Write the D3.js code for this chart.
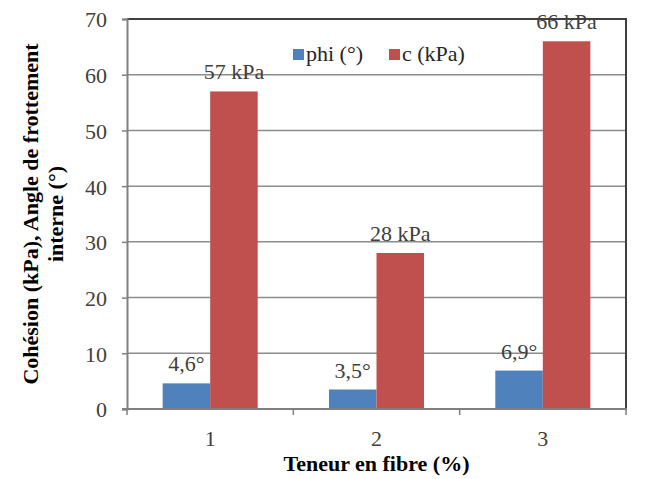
<!DOCTYPE html>
<html>
<head>
<meta charset="utf-8">
<script src="https://cdn.jsdelivr.net/npm/d3@7"></script>
<style>
  html, body { margin: 0; padding: 0; background: #fff; }
  svg { display: block; }
  svg text { font-family: "Liberation Serif", "Times New Roman", Times, "DejaVu Serif", serif; }
</style>
</head>
<body>
<script>
const categories = ["1", "2", "3"];
const seriesNames = ["phi (°)", "c (kPa)"];
const phiValues = [4.6, 3.5, 6.9];
const cValues = [57, 28, 66];
const phiLabels = ["4,6°", "3,5°", "6,9°"];
const cLabels = ["57 kPa", "28 kPa", "66 kPa"];
const yTicks = [0, 10, 20, 30, 40, 50, 60, 70];
const colors = ["#4F81BD", "#C0504D"];

const W = 662, H = 479;
const L = 127, R = 626, T = 19, B = 409;
const FS = 22;

const svg = d3.select("body").append("svg").attr("width", W).attr("height", H)
  .attr("font-family", "Liberation Serif, Times New Roman, serif");

const x0 = d3.scaleBand().domain(categories).range([L, R])
  .paddingInner(1.5 / 3.5).paddingOuter(0.75 / 3.5);
const x1 = d3.scaleBand().domain([0, 1]).range([0, x0.bandwidth()]);
const y = d3.scaleLinear().domain([0, 70]).range([B, T]);

// gridlines
svg.append("g").selectAll("line").data(yTicks.filter(d => d > 0 && d < 70)).join("line")
  .attr("x1", L).attr("x2", R).attr("y1", d => y(d)).attr("y2", d => y(d))
  .attr("stroke", "#8c8c8c").attr("stroke-width", 1.5);

// plot border top/right
svg.append("path")
  .attr("d", `M${L},${y(70)}H${R}V${B}`)
  .attr("fill", "none").attr("stroke", "#404040").attr("stroke-width", 2);

// bars
const seriesData = [phiValues, cValues];
const seriesLabels = [phiLabels, cLabels];
seriesData.forEach((vals, s) => {
  svg.append("g").selectAll("rect").data(vals).join("rect")
    .attr("x", (d, i) => x0(categories[i]) + x1(s))
    .attr("width", x1.bandwidth())
    .attr("y", d => y(d))
    .attr("height", d => B - y(d))
    .attr("fill", colors[s]);
});

// y axis
const yAxis = svg.append("g").attr("transform", `translate(${L},0)`)
  .call(d3.axisLeft(y).tickValues(yTicks).tickSize(5).tickPadding(15).tickFormat(d3.format("d")));
yAxis.attr("font-family", null).attr("font-size", null);
yAxis.select(".domain").attr("stroke", "#808080").attr("stroke-width", 2);
yAxis.selectAll(".tick line").attr("stroke", "#808080").attr("stroke-width", 1.5);
yAxis.selectAll(".tick text").attr("font-size", FS).attr("fill", "#404040").attr("dy", "0.36em");

// x axis
const xAxis = svg.append("g").attr("transform", `translate(0,${B})`)
  .call(d3.axisBottom(x0).tickSize(0).tickPadding(21));
xAxis.attr("font-family", null).attr("font-size", null);
xAxis.select(".domain").remove();
svg.append("line").attr("x1", L - 5).attr("x2", R + 1).attr("y1", B).attr("y2", B)
  .attr("stroke", "#808080").attr("stroke-width", 2);
// category boundary ticks
const bounds = categories.map(c => x0(c) - x0.step() * x0.paddingOuter()).concat([R]);
svg.append("g").selectAll("line").data(bounds).join("line")
  .attr("x1", d => d).attr("x2", d => d).attr("y1", B).attr("y2", B + 6)
  .attr("stroke", "#808080").attr("stroke-width", 1.5);
xAxis.selectAll(".tick text").attr("font-size", FS).attr("fill", "#404040");

// data labels
seriesData.forEach((vals, s) => {
  svg.append("g").selectAll("text").data(vals).join("text")
    .attr("x", (d, i) => x0(categories[i]) + x1(s) + x1.bandwidth() / 2)
    .attr("y", d => y(d) - 12)
    .attr("text-anchor", "middle")
    .attr("font-size", FS).attr("fill", "#404040")
    .text((d, i) => seriesLabels[s][i]);
});

// legend
const legendX = [293, 389];
seriesNames.forEach((name, s) => {
  svg.append("rect").attr("x", legendX[s]).attr("y", 49).attr("width", 11).attr("height", 11)
    .attr("fill", colors[s]);
  svg.append("text").attr("x", legendX[s] + 13).attr("y", 61)
    .attr("font-size", FS).attr("fill", "#262626").text(name);
});

// axis titles
svg.append("text").attr("x", (L + R) / 2).attr("y", 471)
  .attr("text-anchor", "middle").attr("font-size", FS).attr("font-weight", "bold")
  .attr("fill", "#000").text("Teneur en fibre (%)");

const yt = svg.append("text").attr("transform", `translate(38,${(T + B) / 2}) rotate(-90)`)
  .attr("text-anchor", "middle").attr("font-size", FS).attr("font-weight", "bold").attr("fill", "#000");
yt.append("tspan").attr("x", 0).attr("dy", 0).text("Cohésion (kPa), Angle de frottement");
yt.append("tspan").attr("x", 0).attr("dy", 25).text("interne (°)");
</script>
</body>
</html>
